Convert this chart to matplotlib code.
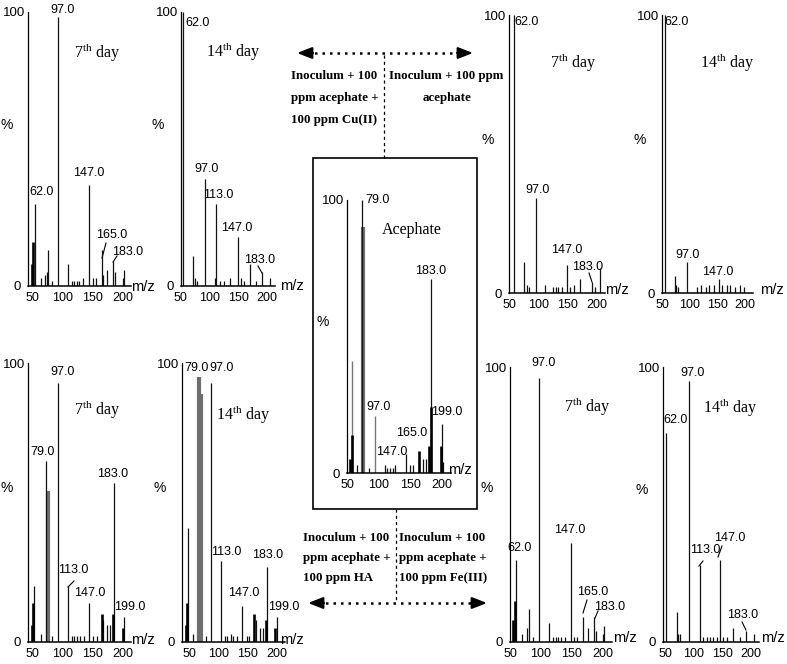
import matplotlib
matplotlib.use("Agg")
import matplotlib.pyplot as plt
from matplotlib import font_manager
from matplotlib.patches import Rectangle

W, H = 787, 664


def first_font(names):
    for n in names:
        try:
            font_manager.findfont(n, fallback_to_default=False)
            return n
        except Exception:
            continue
    return "DejaVu Sans"


NUM = first_font(["Liberation Sans Narrow", "Liberation Sans", "DejaVu Sans"])
NARROW = NUM == "Liberation Sans Narrow"
LBL_FS = 10 if NARROW else 9
XT_FS = 10.5 if NARROW else 9
YT_FS = 11 if NARROW else 9.5
SERIF = "Liberation Serif"
plt.rcParams["mathtext.fontset"] = "custom"
plt.rcParams["mathtext.rm"] = SERIF
plt.rcParams["mathtext.bf"] = SERIF + ":bold"

# ---- spectra: (m/z, relative intensity %) ----
# Cu(II), 7th / 14th day
cu7_thin = [(54.9, 30), (64.3, 3), (71.4, 4), (74.2, 5), (76.8, 13), (83.5, 2), (92.3, 98),
            (108.8, 8), (115.4, 2), (119.2, 2), (123.6, 2), (127.5, 2), (134.6, 3), (144.5, 37),
            (151.1, 3), (155.5, 3), (164.8, 13), (166.5, 4), (173.0, 6), (184.0, 9), (186.8, 5),
            (199.4, 3), (201.6, 6)]
cu7_bold = [(50.5, 8), (52.2, 16)]
cu14_thin = [(54.3, 100), (71.8, 11), (75.9, 3), (78.5, 2), (93.1, 39), (110.3, 3), (112.1, 30),
             (119.0, 2), (125.9, 2), (136.2, 3), (148.8, 18), (154.6, 3), (160.0, 2), (170.7, 8),
             (180.0, 2), (191.9, 5), (205.2, 3)]
# acephate only, 7th / 14th day
ace7_thin = [(58.0, 100), (75.5, 11), (80.0, 3), (84.0, 2), (95.5, 34), (111.7, 3), (124.5, 2),
             (130.0, 2), (133.9, 2), (139.5, 2), (148.0, 10), (153.0, 2), (160.0, 3), (170.5, 5),
             (191.0, 4), (197.0, 2), (205.0, 9)]
ace14_thin = [(55.4, 100), (73.8, 6), (76.0, 3), (79.0, 2), (96.0, 11), (113.7, 2), (119.6, 3),
              (128.6, 2), (134.5, 3), (143.4, 3), (152.3, 5), (158.4, 3), (167.3, 3), (173.2, 3),
              (182.1, 2), (191.1, 3), (198.2, 2)]
# pure acephate
std_thin = [(66.0, 3), (73.7, 100), (85.0, 2), (110.0, 3), (113.0, 2), (118.0, 2), (123.0, 2),
            (126.0, 3), (143.0, 7), (150.0, 3), (154.0, 3), (170.0, 5), (174.0, 5), (182.0, 71),
            (199.7, 18), (201.5, 4)]
std_bold = [(54.7, 5), (57.9, 14), (163.7, 8), (180.0, 10), (182.0, 24), (199.0, 10)]
std_gray = [(75.8, 90)]
std_light = [(57.4, 41), (94.0, 21)]
# HA, 7th / 14th day
ha7_thin = [(53.8, 20), (64.3, 3), (72.5, 65), (83.5, 2), (92.3, 93), (108.8, 20), (115.4, 2),
            (119.2, 2), (124.7, 2), (129.2, 2), (135.8, 2), (144.4, 14), (151.0, 2), (156.6, 2),
            (166.5, 8), (173.0, 6), (178.5, 6), (185.0, 57), (202.0, 9)]
ha7_bold = [(50.5, 6), (52.0, 14), (164.8, 10), (183.0, 10), (199.4, 5)]
ha7_gray = [(75.8, 54)]
ha14_thin = [(47.8, 41), (57.4, 3), (79.0, 2), (87.5, 93), (104.0, 29), (111.4, 2), (115.3, 2),
             (121.0, 3), (125.5, 2), (132.3, 2), (141.0, 13), (148.4, 2), (152.8, 2), (164.2, 8),
             (171.0, 5), (176.7, 5), (182.5, 27), (199.5, 9)]
ha14_bold = [(44.4, 6), (46.0, 14), (161.4, 10), (180.8, 8), (196.6, 5)]
ha14_gray = [(67.0, 95), (70.5, 89)]
# Fe(III), 7th / 14th day
fe7_thin = [(59.7, 30), (68.9, 3), (77.0, 5), (80.6, 12), (87.6, 2), (96.8, 96), (113.0, 7),
            (120.0, 2), (124.4, 2), (128.0, 2), (132.4, 2), (138.9, 2), (148.0, 36), (153.0, 2),
            (157.6, 2), (167.2, 9), (176.3, 5), (185.6, 9), (188.0, 4), (199.5, 3), (202.0, 6)]
fe7_bold = [(55.4, 8), (58.0, 15)]
fe14_thin = [(51.2, 76), (70.4, 11), (73.0, 3), (76.0, 3), (91.9, 95), (111.0, 28), (117.0, 2),
             (124.0, 2), (128.6, 2), (134.4, 2), (140.3, 2), (146.0, 30), (151.6, 2), (157.4, 2),
             (169.0, 5), (180.0, 2), (190.7, 4), (205.0, 3)]

mz_ticks = [50, 100, 150, 200]

# ---- layout (pixels): spine x, baseline y, top y, x of "50", x of "200" ----
panels = [
    ((28, 286, 12, 32, 123), cu7_thin, cu7_bold, [], []),
    ((180.5, 286, 12, 180, 267), cu14_thin, [], [], []),
    ((509, 293, 15, 507, 597), ace7_thin, [], [], []),
    ((662, 293, 15, 661, 745), ace14_thin, [], [], []),
    ((347, 473, 200, 347, 442), std_thin, std_bold, std_gray, std_light),
    ((28, 642, 363, 32, 123), ha7_thin, ha7_bold, ha7_gray, []),
    ((182, 642, 363, 189, 277), ha14_thin, ha14_bold, ha14_gray, []),
    ((509.5, 642, 367, 510, 603), fe7_thin, fe7_bold, [], []),
    ((662.7, 642, 367, 665, 751), fe14_thin, [], [], []),
]

peak_labels = [
    ("97.0", 63, 10), ("62.0", 42, 192), ("147.0", 89, 173), ("165.0", 112, 235), ("183.0", 128, 252),
    ("62.0", 198, 23), ("97.0", 207, 169), ("113.0", 218, 195), ("147.0", 237, 228), ("183.0", 260, 260),
    ("62.0", 527, 22), ("97.0", 538, 190), ("147.0", 567, 250), ("183.0", 588, 267),
    ("62.0", 677, 22), ("97.0", 688, 255), ("147.0", 718, 272),
    ("79.0", 378, 200), ("183.0", 431, 271), ("97.0", 379, 407), ("165.0", 412, 433),
    ("147.0", 392, 452), ("199.0", 447, 412),
    ("97.0", 63, 372), ("79.0", 43, 452), ("183.0", 113, 474), ("113.0", 73, 570),
    ("147.0", 90, 593), ("199.0", 130, 607),
    ("79.0", 197, 368), ("97.0", 222, 368), ("113.0", 226, 552), ("183.0", 268, 555),
    ("147.0", 244, 593), ("199.0", 284, 607),
    ("97.0", 544, 363), ("62.0", 520, 548), ("147.0", 570, 530), ("165.0", 593, 592), ("183.0", 610, 607),
    ("97.0", 693, 373), ("62.0", 676, 420), ("113.0", 705, 550), ("147.0", 730, 538), ("183.0", 743, 615),
]
leaders = [((106, 243), (102, 258)), ((117, 256), (113, 262)), ((258, 266), (262, 273)),
           ((589, 273), (592, 282)), ((74, 581), (68, 587)), ((587, 600), (583, 613)),
           ((598, 611), (595, 618)), ((703, 561), (699, 566)), ((722, 546), (718, 557)),
           ((742, 622), (746, 630))]
day_labels = [(r"7$^{\rm th}$ day", 97, 53), (r"14$^{\rm th}$ day", 233, 52),
              (r"7$^{\rm th}$ day", 573, 63), (r"14$^{\rm th}$ day", 727, 63),
              (r"7$^{\rm th}$ day", 97, 410), (r"14$^{\rm th}$ day", 243, 415),
              (r"7$^{\rm th}$ day", 587, 407), (r"14$^{\rm th}$ day", 730, 408)]
pct_pos = [(7, 125), (158, 125), (488, 140), (640, 140), (323, 322),
           (7, 488), (160, 488), (487, 488), (642, 490)]
mz_pos = [(143, 287), (292, 286), (617, 290), (772, 290), (460, 470),
          (143, 640), (292, 640), (625, 638), (773, 638)]

fig = plt.figure(figsize=(W / 100, H / 100), dpi=100)

# overlay in pixel coordinates for annotations
ov = fig.add_axes([0, 0, 1, 1], facecolor="none")
ov.set_xlim(0, W)
ov.set_ylim(H, 0)
ov.axis("off")


def draw_panel(lay, thin, bold, gray, light):
    s, b, t, t50, t200 = lay
    k = 150.0 / (t200 - t50)
    x0 = 50 + (s - t50) * k
    x1 = 214
    ax = fig.add_axes([s / W, (H - b) / H, (x1 - x0) / k / W, (b - t) / H], facecolor="none")
    ax.set_xlim(x0, x1)
    ax.set_ylim(0, 100)
    for pk, c, lw in [(light, "#777777", 1.0), (gray, "#6e6e6e", 3.0),
                      (thin, "#111111", 0.9), (bold, "black", 1.9)]:
        if pk:
            ax.vlines([p[0] for p in pk], 0, [p[1] for p in pk], colors=c, linewidth=lw)
    for side in ["top", "right"]:
        ax.spines[side].set_visible(False)
    ax.spines["left"].set_linewidth(0.9)
    ax.spines["bottom"].set_linewidth(1.1)
    ax.set_xticks(mz_ticks)
    ax.set_yticks([0, 100])
    ax.set_yticklabels(["0 ", "100"])
    ax.tick_params(axis="x", length=0, pad=4.5, labelsize=XT_FS)
    ax.tick_params(axis="y", length=0, pad=2, labelsize=YT_FS)
    for lab in ax.get_xticklabels() + ax.get_yticklabels():
        lab.set_fontfamily(NUM)
    return ax


for lay, thin, bold, gray, light in panels:
    draw_panel(lay, thin, bold, gray, light)

for txt, x, y in peak_labels:
    ov.text(x, y, txt, ha="center", va="center", fontsize=LBL_FS, family=NUM)
for (xa, ya), (xb, yb) in leaders:
    ov.plot([xa, xb], [ya, yb], color="black", lw=0.8)
for txt, x, y in day_labels:
    ov.text(x, y, txt, ha="center", va="center", fontsize=11.5, family=SERIF)
for x, y in pct_pos:
    ov.text(x, y, "%", ha="center", va="center", fontsize=YT_FS + 0.5, family=NUM)
for x, y in mz_pos:
    ov.text(x, y, "m/z", ha="center", va="center", fontsize=YT_FS + 1, family=NUM)
ov.text(412, 230, "Acephate", ha="center", va="center", fontsize=11.5, family=SERIF)

# centre box
ov.add_patch(Rectangle((313, 158), 164, 351, fill=False, lw=1.2, edgecolor="black"))

# treatment captions
bold_kw = dict(fontsize=9.3, family=SERIF, fontweight="bold", va="center")
for i, line in enumerate(["Inoculum + 100", "ppm acephate +", "100 ppm Cu(II)"]):
    ov.text(291, 76 + 22 * i, line, ha="left", **bold_kw)
ov.text(389, 76, "Inoculum + 100 ppm", ha="left", **bold_kw)
ov.text(447, 98, "acephate", ha="center", **bold_kw)
for i, line in enumerate(["Inoculum + 100", "ppm acephate +", "100 ppm HA"]):
    ov.text(303, 538 + 20 * i, line, ha="left", **bold_kw)
for i, line in enumerate(["Inoculum + 100", "ppm acephate +", "100 ppm Fe(III)"]):
    ov.text(399, 538 + 20 * i, line, ha="left", **bold_kw)


def dotted_arrow(xl, xr, y):
    ov.plot([xl + 10, xr - 10], [y, y], color="black", lw=1.8, linestyle=(0, (1, 2)))
    for tip, tail in [(xl, xl + 16), (xr, xr - 16)]:
        ov.annotate("", xy=(tip, y), xytext=(tail, y),
                    arrowprops=dict(arrowstyle="-|>,head_length=0.9,head_width=0.35",
                                    color="black", lw=1.5, shrinkA=0, shrinkB=0))


dotted_arrow(297, 473, 53)
ov.plot([384, 384], [55, 158], color="black", lw=0.9, linestyle=(0, (2.5, 2.5)))
dotted_arrow(308, 487, 603)
ov.plot([396, 396], [509, 601], color="black", lw=0.9, linestyle=(0, (2.5, 2.5)))

fig.savefig("out.png", dpi=100)
